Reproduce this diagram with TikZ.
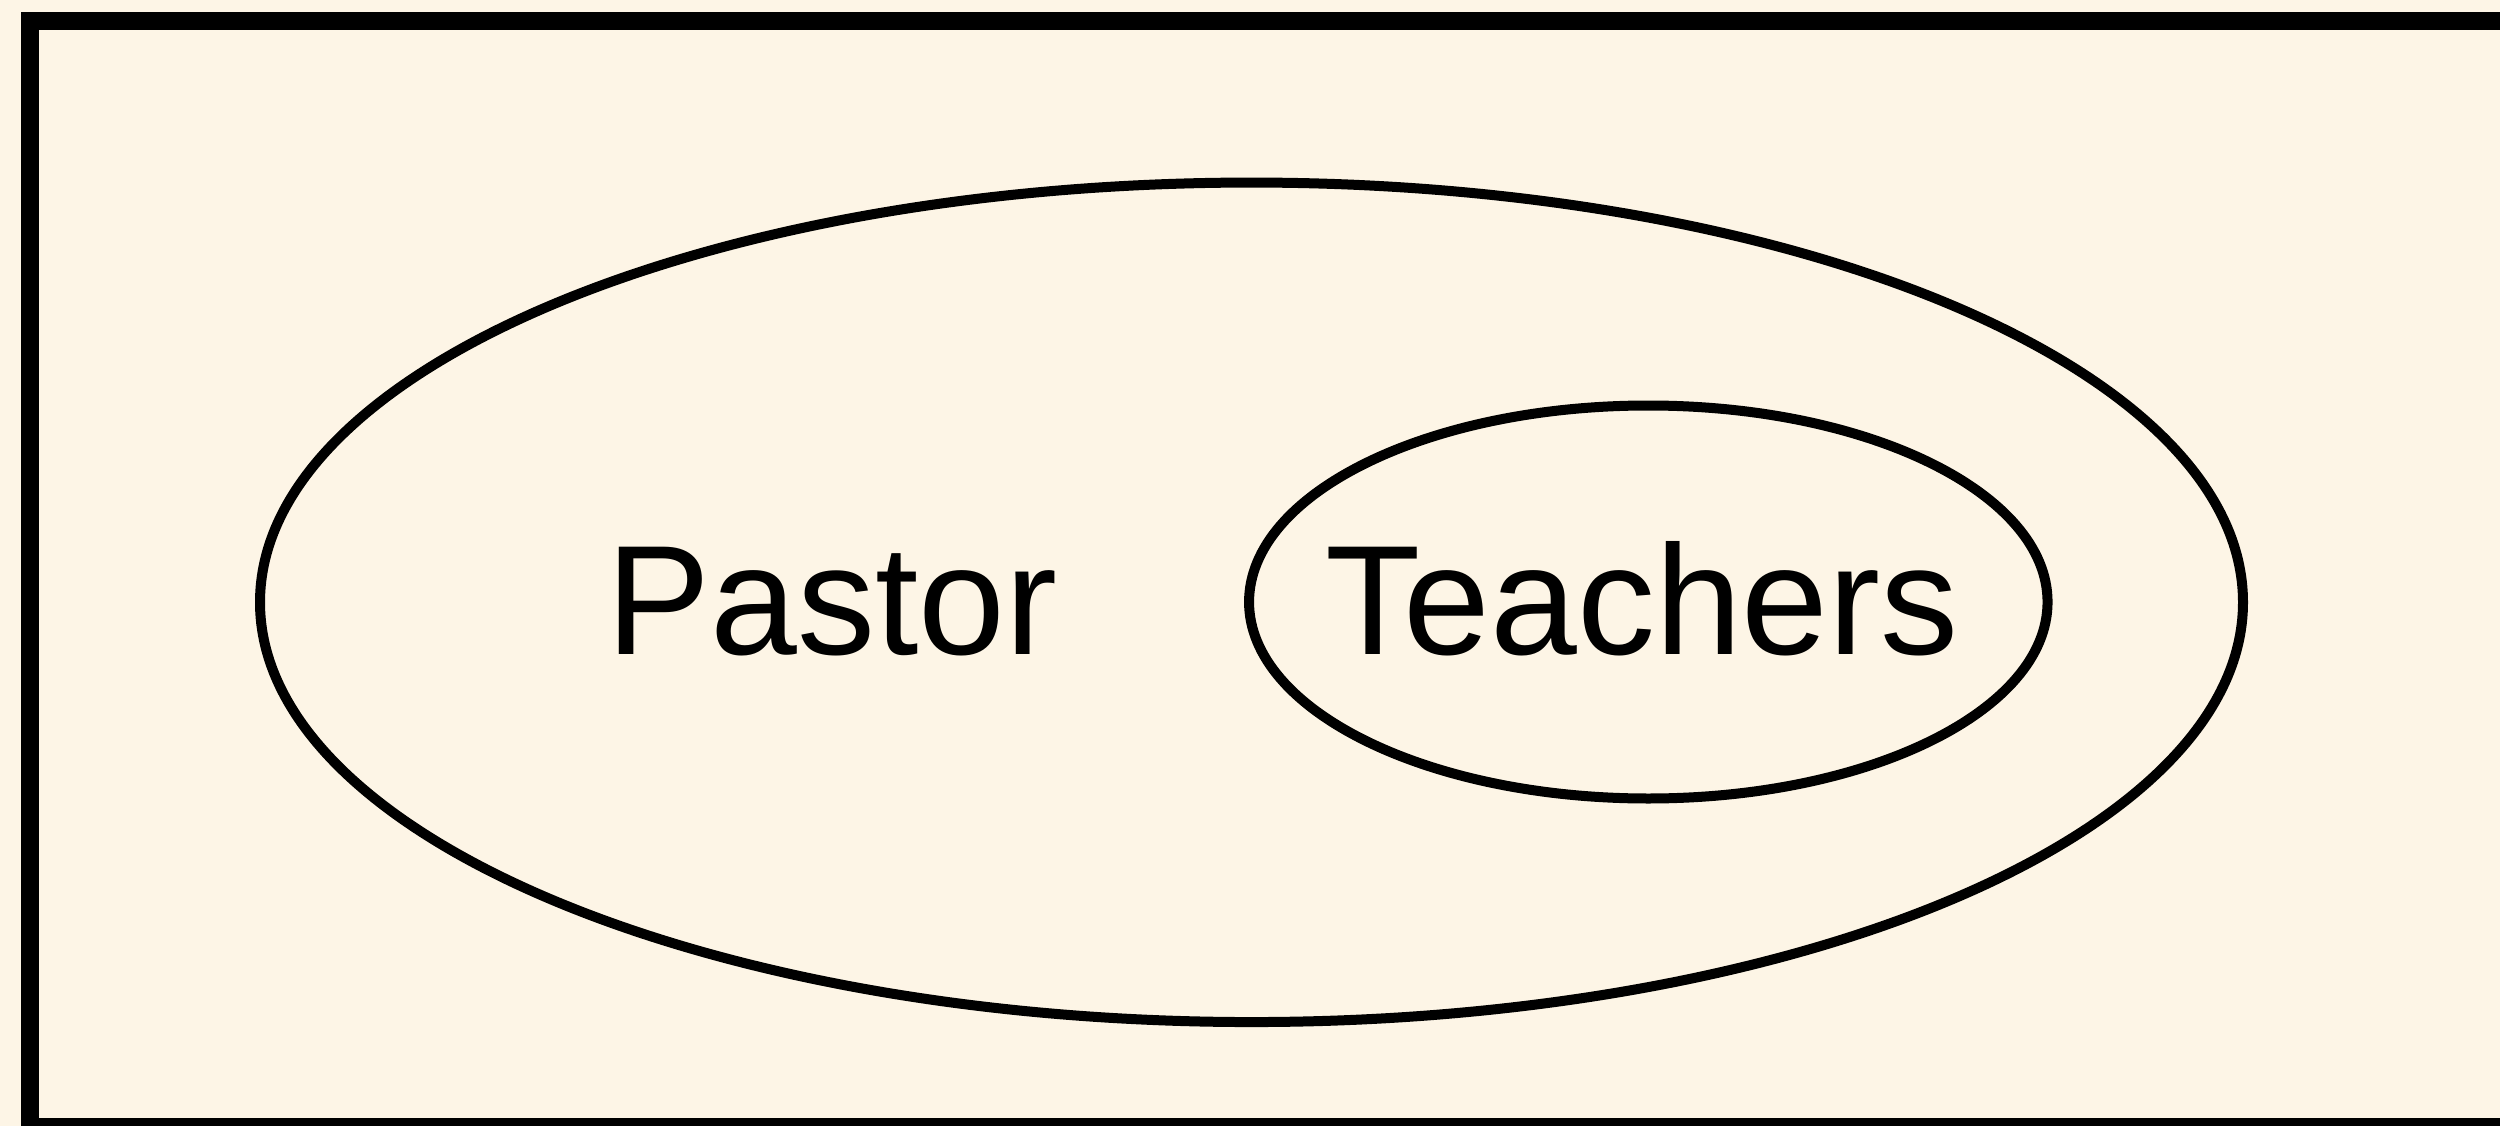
\documentclass[tikz,border=0pt]{standalone}
\usepackage{fontspec}
\setmainfont{Liberation Sans}
\usetikzlibrary{shapes.geometric}
\definecolor{bgc}{HTML}{FDF5E6}
\begin{document}
\begin{tikzpicture}[x=1pt,y=-1pt,
  setbox/.style={draw=black,ellipse,line width=10pt,inner sep=0pt},
  lbl/.style={anchor=base,inner sep=0pt,font=\fontsize{156}{178}\selectfont}]
\useasboundingbox (0,0) rectangle (2500,1126);
\begin{scope}
\clip (0,0) rectangle (2500,1126);
\fill[bgc] (0,0) rectangle (2500,1126);
\draw[line width=18pt] (30,21.5) rectangle (2530,1127);
\node[setbox,minimum width=1983pt,minimum height=839.5pt] (pastor) at (1251.5,602.3) {};
\node[setbox,minimum width=798.5pt,minimum height=393pt] (teachers) at (1648.3,602) {};
\node[lbl] (tp) at (832,654) {Pastor};
\node[lbl] (tt) at (1642,654) {Teachers};
\end{scope}
\end{tikzpicture}
\end{document}
